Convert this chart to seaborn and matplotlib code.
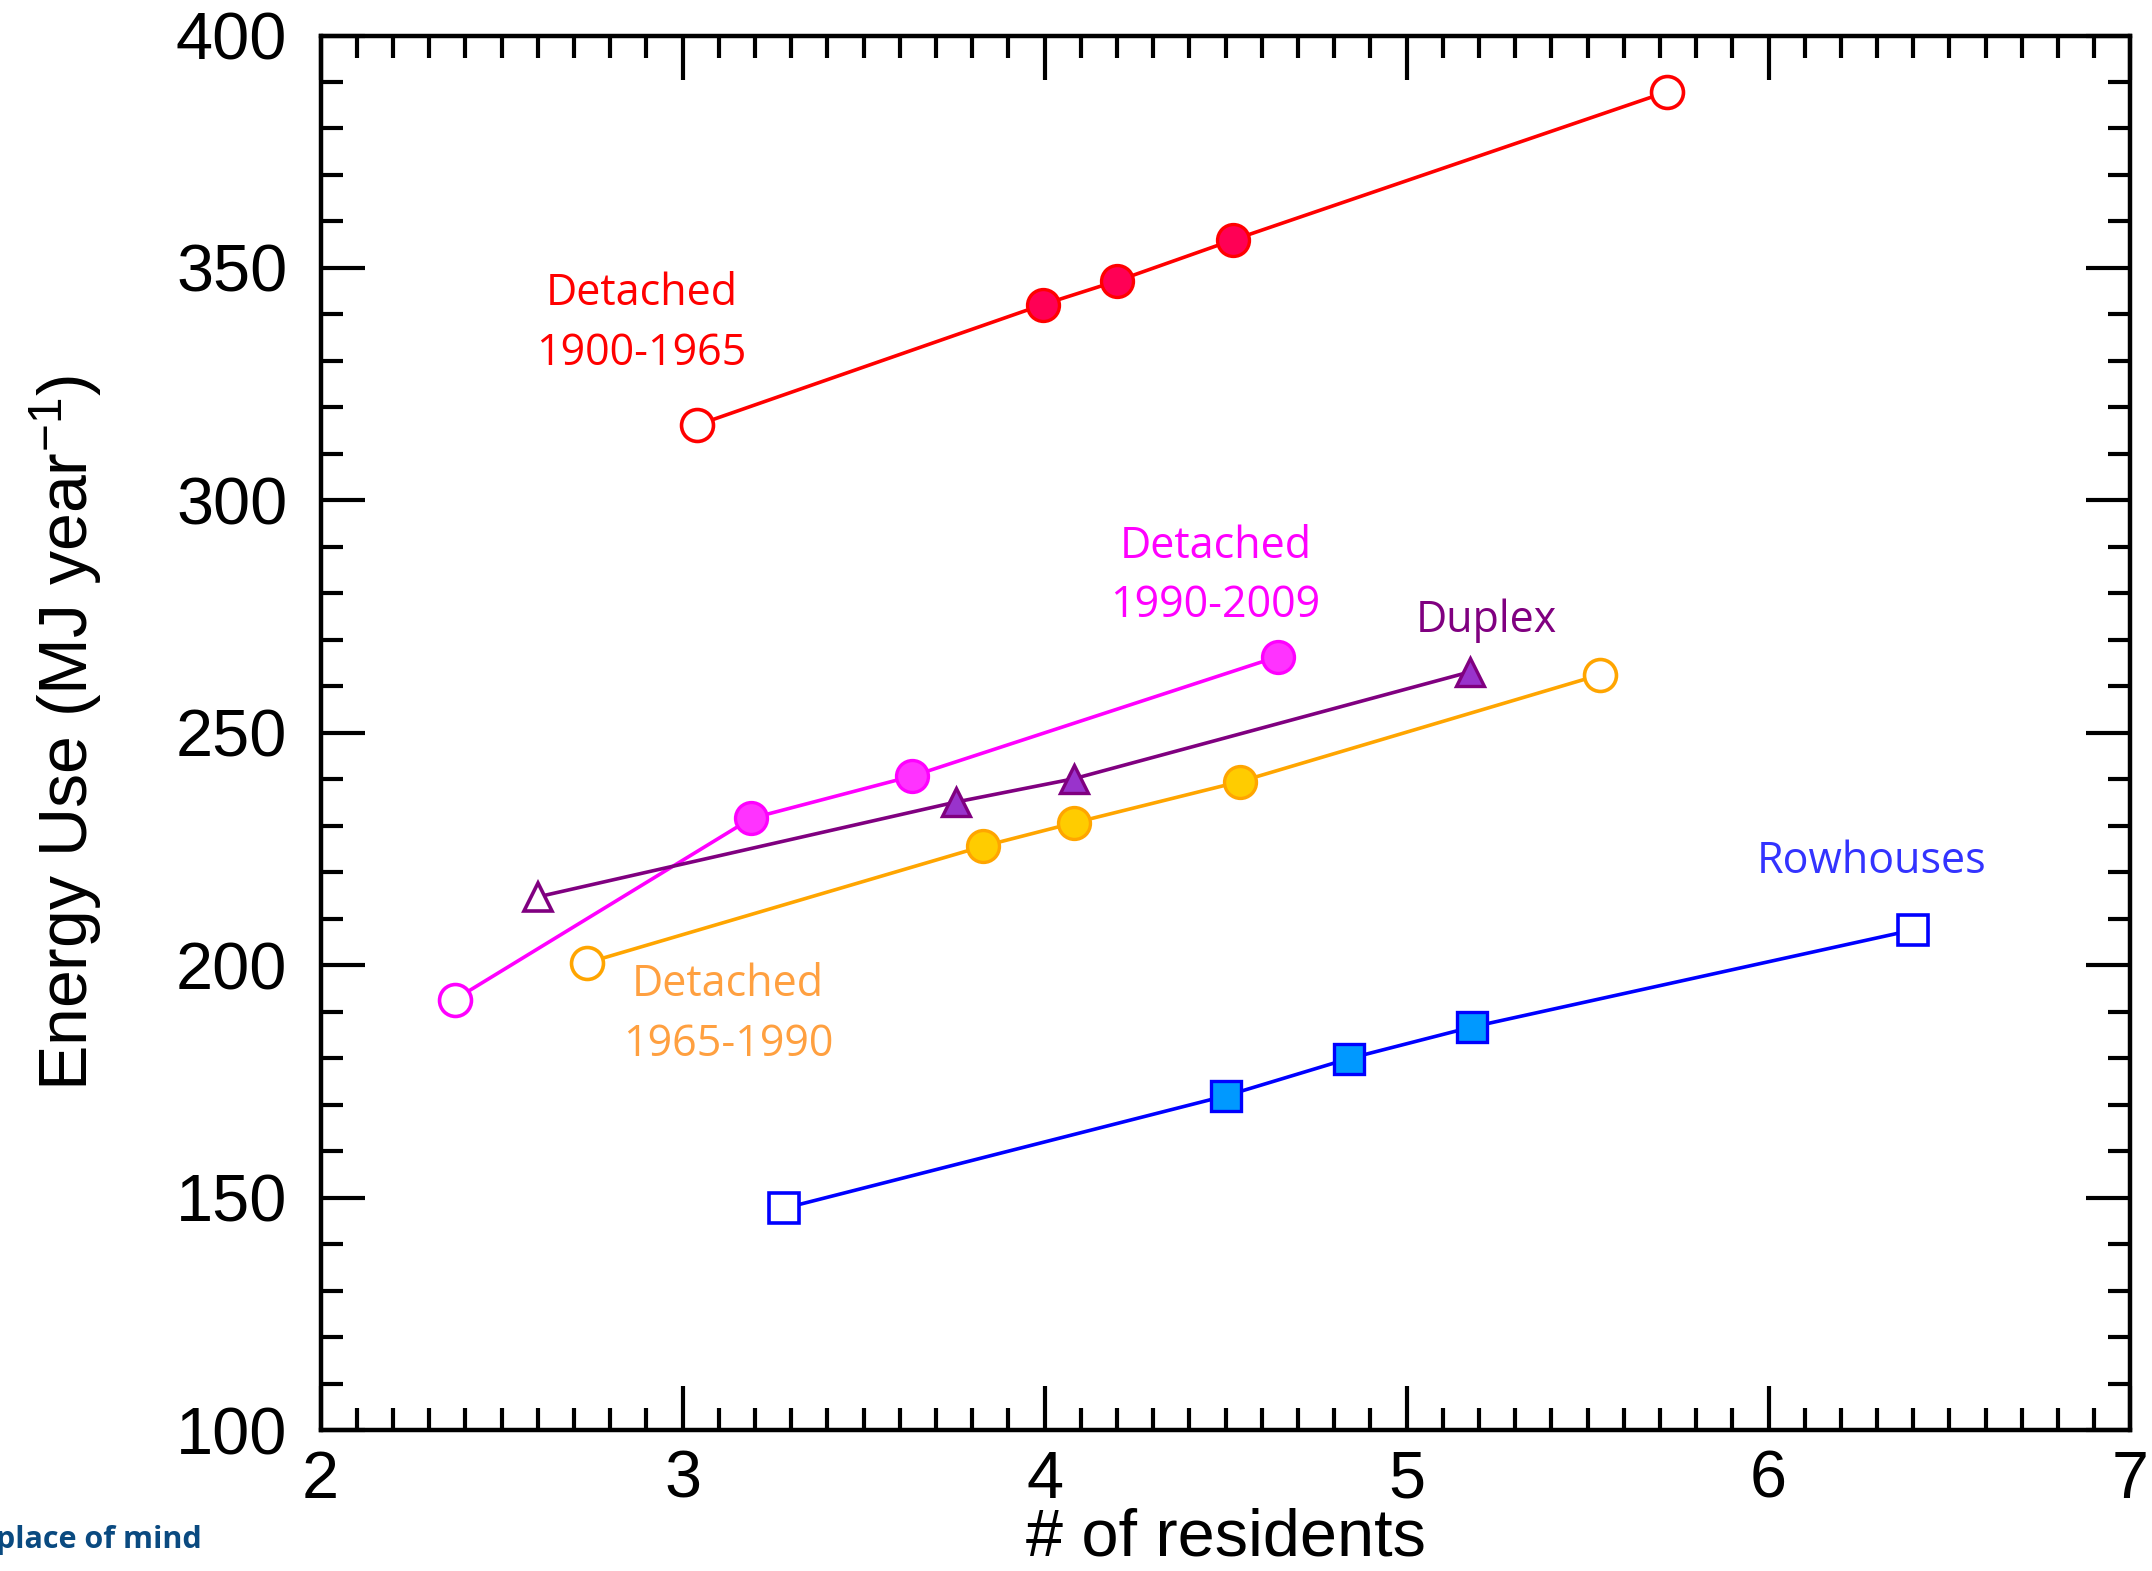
import matplotlib
matplotlib.use("Agg")
import matplotlib.pyplot as plt
from matplotlib.ticker import MultipleLocator
import seaborn as sns
import pandas as pd

# ---- data ----
red_x = [3.04, 3.995, 4.20, 4.52, 5.72]
red_y = [316.2, 342.1, 347.2, 356.0, 387.9]
red_open = [True, False, False, False, True]

mag_x = [2.37, 3.19, 3.635, 4.645]
mag_y = [192.6, 231.6, 240.7, 266.4]
mag_open = [True, False, False, False]

dup_x = [2.60, 3.755, 4.08, 5.175]
dup_y = [214.7, 235.1, 240.1, 263.1]
dup_open = [True, False, False, False]

ora_x = [2.735, 3.83, 4.08, 4.54, 5.535]
ora_y = [200.5, 225.6, 230.6, 239.5, 262.5]
ora_open = [True, False, False, False, True]

row_x = [3.28, 4.50, 4.84, 5.18, 6.40]
row_y = [147.7, 171.9, 179.9, 186.7, 207.6]
row_open = [True, False, False, False, True]

labels = ["Detached\n1900-1965", "Detached\n1990-2009", "Duplex",
          "Detached\n1965-1990", "Rowhouses"]
label_x = [2.887, 4.472, 5.22, 3.126, 6.285]
label_y = [338.0, 283.7, 274.2, 189.3, 222.3]

x_ticks = [2, 3, 4, 5, 6, 7]
y_ticks = [100, 150, 200, 250, 300, 350, 400]

# ---- style ----
series = [
    dict(x=red_x, y=red_y, o=red_open, line="#ff0000", fill="#ff0055", edge="#ff0000", m="o", ms=23, lab="#ff0000"),
    dict(x=mag_x, y=mag_y, o=mag_open, line="#ff00ff", fill="#ff33ff", edge="#ff00ff", m="o", ms=23, lab="#ff00ff"),
    dict(x=dup_x, y=dup_y, o=dup_open, line="#800080", fill="#9933cc", edge="#800080", m="^", ms=20, lab="#800080"),
    dict(x=ora_x, y=ora_y, o=ora_open, line="#ffa500", fill="#ffcc00", edge="#ffa500", m="o", ms=23, lab="#ffa040"),
    dict(x=row_x, y=row_y, o=row_open, line="#0000ff", fill="#0099ff", edge="#0000ff", m="s", ms=22, lab="#3333ff"),
]

sns.set_style("ticks")
plt.rcParams["font.family"] = ["Liberation Sans", "DejaVu Sans"]
plt.rcParams["mathtext.fontset"] = "custom"
plt.rcParams["mathtext.rm"] = "Liberation Sans"
plt.rcParams["mathtext.it"] = "Liberation Sans"
plt.rcParams["mathtext.bf"] = "Liberation Sans"
plt.rcParams["text.color"] = "black"
plt.rcParams["axes.labelcolor"] = "black"
plt.rcParams["xtick.color"] = "black"
plt.rcParams["ytick.color"] = "black"

fig = plt.figure(figsize=(21.52, 15.71), dpi=100)
ax = fig.add_axes([0.149, 0.0897, 0.841, 0.8877])

for s in series:
    df = pd.DataFrame({"x": s["x"], "y": s["y"], "open": s["o"]})
    sns.lineplot(data=df, x="x", y="y", ax=ax, color=s["line"], linewidth=2.6,
                 estimator=None, sort=False, legend=False, zorder=2)
    filled = df[~df["open"]]
    opened = df[df["open"]]
    ax.plot(filled["x"], filled["y"], linestyle="none", marker=s["m"], markersize=s["ms"],
            markerfacecolor=s["fill"], markeredgecolor=s["edge"], markeredgewidth=2.4, zorder=3)
    ax.plot(opened["x"], opened["y"], linestyle="none", marker=s["m"], markersize=s["ms"],
            markerfacecolor="white", markeredgecolor=s["edge"], markeredgewidth=2.6, zorder=3)

for txt, lx, ly, s in zip(labels, label_x, label_y, series):
    ax.text(lx, ly, txt, color=s["lab"], ha="center", va="center", fontsize=31,
            family=["Open Sans", "DejaVu Sans"], linespacing=1.45)

ax.set_xlim(2, 7)
ax.set_ylim(100, 400)
ax.set_xticks(x_ticks)
ax.set_yticks(y_ticks)
ax.set_xticklabels([str(v) for v in x_ticks])
ax.set_yticklabels([str(v) for v in y_ticks])
ax.xaxis.set_minor_locator(MultipleLocator(0.1))
ax.yaxis.set_minor_locator(MultipleLocator(10))
ax.tick_params(which="both", direction="in", top=True, right=True, width=3,
               color="black", labelcolor="black")
ax.tick_params(which="major", length=32)
ax.tick_params(which="minor", length=16)
ax.tick_params(axis="x", which="major", labelsize=48, pad=14)
ax.tick_params(axis="y", which="major", labelsize=48, pad=24)
for sp in ax.spines.values():
    sp.set_visible(True)
    sp.set_linewidth(3.2)
    sp.set_color("black")

ax.set_xlabel("# of residents", fontsize=48, labelpad=-3, color="black")
ax.set_ylabel(r"Energy Use (MJ year$^{-1}$)", fontsize=49, labelpad=52, color="black")

fig.text(-0.002, 0.02, "place of mind", color="#0a4a80", fontsize=22, fontweight="bold",
         family=["Open Sans", "DejaVu Sans"], ha="left", va="center")

fig.savefig("out.png", dpi=100)
